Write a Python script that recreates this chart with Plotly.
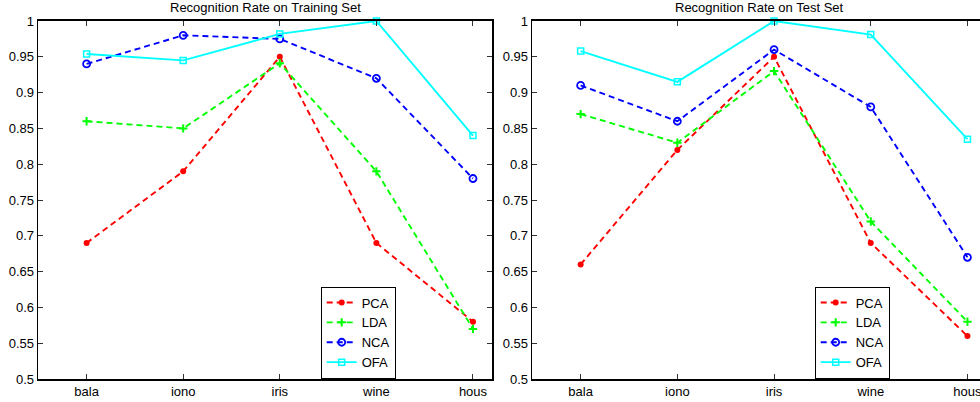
import plotly.graph_objects as go

datasets = ["bala", "iono", "iris", "wine", "hous"]
methods = ["PCA", "LDA", "NCA", "OFA"]

train_pca = [0.69, 0.79, 0.95, 0.69, 0.58]
train_lda = [0.86, 0.85, 0.941, 0.79, 0.57]
train_nca = [0.94, 0.98, 0.975, 0.92, 0.78]
train_ofa = [0.954, 0.945, 0.982, 1.0, 0.84]

test_pca = [0.66, 0.82, 0.95, 0.69, 0.56]
test_lda = [0.87, 0.83, 0.93, 0.72, 0.58]
test_nca = [0.91, 0.86, 0.96, 0.88, 0.67]
test_ofa = [0.958, 0.915, 1.0, 0.981, 0.835]

ytick_vals = [0.5, 0.55, 0.6, 0.65, 0.7, 0.75, 0.8, 0.85, 0.9, 0.95, 1.0]
ytick_text = ["0.5", "0.55", "0.6", "0.65", "0.7", "0.75", "0.8", "0.85", "0.9", "0.95", "1"]

W, H = 980, 402
FONT = "Liberation Sans, Arial, Helvetica, sans-serif"

styles = {
    "PCA": dict(color="#ff0000", dash="6px,4px", symbol="circle", msize=6, mline=0),
    "LDA": dict(color="#00ff00", dash="6px,4px", symbol="cross-thin", msize=6, mline=2),
    "NCA": dict(color="#0000ff", dash="6px,4px", symbol="circle-open", msize=7, mline=1.8),
    "OFA": dict(color="#00ffff", dash="solid", symbol="square-open", msize=6, mline=1.5),
}

xpos = list(range(1, len(datasets) + 1))

fig = go.Figure()

def add_series(vals_list, xa, ya, legend):
    for name, vals in zip(methods, vals_list):
        s = styles[name]
        fig.add_trace(go.Scatter(
            x=xpos, y=vals, name=name, mode="lines+markers",
            xaxis=xa, yaxis=ya, legend=legend, cliponaxis=False,
            line=dict(color=s["color"], width=1.9, dash=s["dash"]),
            marker=dict(symbol=s["symbol"], size=s["msize"], color=s["color"],
                        line=dict(color=s["color"], width=s["mline"])),
        ))

add_series([train_pca, train_lda, train_nca, train_ofa], "x", "y", "legend")
add_series([test_pca, test_lda, test_nca, test_ofa], "x2", "y2", "legend2")

yb, yt = 1 - 379 / H, 1 - 21 / H
axis_common = dict(showline=True, linecolor="black", linewidth=1.6, ticks="inside",
                   ticklen=5, tickwidth=1, tickcolor="#333", showgrid=False, zeroline=False,
                   automargin=False, ticklabeloverflow="allow",
                   tickfont=dict(family=FONT, size=13, color="black"))

legend_common = dict(bgcolor="white", bordercolor="black", borderwidth=1,
                     font=dict(family=FONT, size=13, color="black"),
                     xanchor="left", yanchor="middle", itemwidth=30, tracegroupgap=0)

fig.update_layout(
    template="none",
    width=W, height=H, margin=dict(l=0, r=0, t=0, b=0, pad=0, autoexpand=False),
    paper_bgcolor="white", plot_bgcolor="white",
    font=dict(family=FONT, size=13, color="black"),
    xaxis=dict(domain=[38.3 / W, 492.3 / W], range=[0.5, 5.2], tickvals=xpos,
               ticktext=datasets, anchor="y", mirror="allticks", **axis_common),
    yaxis=dict(domain=[yb, yt], range=[0.5, 1.0], tickvals=ytick_vals, ticktext=ytick_text,
               anchor="x", mirror="allticks", **axis_common),
    xaxis2=dict(domain=[532.3 / W, 1.0], range=[0.5, 0.5 + (W - 532.3) / 96.7], tickvals=xpos,
                ticktext=datasets, anchor="y2", mirror="allticks", **axis_common),
    yaxis2=dict(domain=[yb, yt], range=[0.5, 1.0], tickvals=ytick_vals, ticktext=ytick_text,
                anchor="x2", mirror=False, **axis_common),
    legend=dict(x=320.7 / W, y=1 - 332.5 / H, **legend_common),
    legend2=dict(x=814.7 / W, y=1 - 332.5 / H, **legend_common),
    annotations=[
        dict(text="Recognition Rate on Training Set", x=265.3 / W, y=1 - 7.5 / H,
             xref="paper", yref="paper", xanchor="center", yanchor="middle",
             showarrow=False, font=dict(family=FONT, size=13, color="black")),
        dict(text="Recognition Rate on Test Set", x=759.6 / W, y=1 - 7.5 / H,
             xref="paper", yref="paper", xanchor="center", yanchor="middle",
             showarrow=False, font=dict(family=FONT, size=13, color="black")),
    ],
)

fig.write_html(
    "out.html",
    config={"displayModeBar": False, "staticPlot": True},
    post_script="document.body.style.margin='0';document.body.style.overflow='hidden';",
)
